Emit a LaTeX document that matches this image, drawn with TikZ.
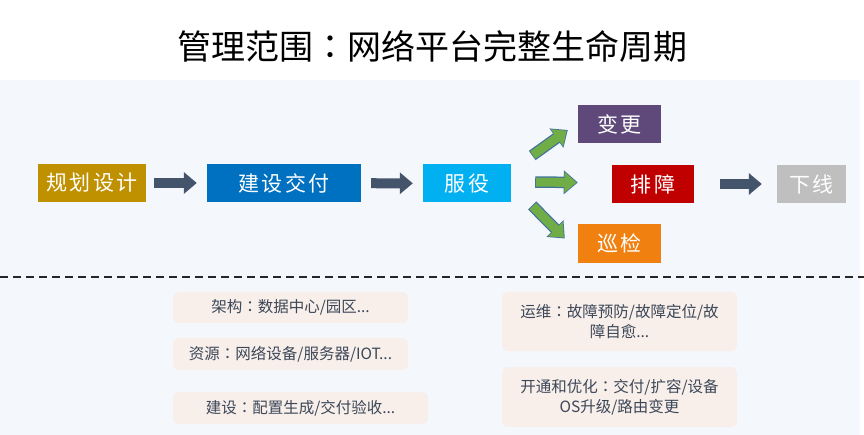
\documentclass[tikz,border=0pt]{standalone}
\usepackage{fontspec}
\setmainfont{Noto Sans CJK SC}
\newfontfamily\tcfont{Noto Sans CJK TC}
\newcommand{\midcolon}{{\tcfont ：}}
\usetikzlibrary{arrows.meta,calc}
\definecolor{bandblue}{RGB}{244,248,252}
\definecolor{plangold}{RGB}{191,144,0}
\definecolor{buildblue}{RGB}{0,112,192}
\definecolor{servecyan}{RGB}{0,176,240}
\definecolor{changepurple}{RGB}{95,73,122}
\definecolor{fixred}{RGB}{192,0,0}
\definecolor{patrolorange}{RGB}{240,128,16}
\definecolor{retiregray}{RGB}{191,191,191}
\definecolor{slatearrow}{RGB}{68,84,106}
\definecolor{arrowgreen}{RGB}{112,173,71}
\definecolor{greenedge}{RGB}{65,113,156}
\definecolor{notepink}{RGB}{248,238,234}
\definecolor{notetext}{RGB}{60,72,88}

\begin{document}
\begin{tikzpicture}[x=1pt, y=-1pt,
  headline/.style={font=\fontsize{34}{40}\selectfont, text=black},
  stage/.style={text=white, align=center, inner sep=0pt,
                minimum height=38pt,
                font=\fontsize{21}{24}\selectfont\addfontfeature{LetterSpace=12}},
  note/.style={fill=notepink, rounded corners=6pt, text=notetext,
               align=center, inner sep=0pt,
               font=\fontsize{15.5}{20}\selectfont},
  darkarrow/.style={draw=slatearrow, line width=10pt,
                    -{Triangle[length=13pt,width=21pt]}},
  greenarrow/.style={draw=arrowgreen, line width=9pt,
                     -{Triangle[length=12pt,width=20pt]},
                     shorten >=1.3pt, shorten <=0.8pt,
                     preaction={draw=greenedge, line width=11.5pt,
                                -{Triangle[length=14pt,width=23pt]},
                                shorten >=0pt, shorten <=0pt}}
]
\useasboundingbox (0,0) rectangle (864,435);
\fill[bandblue] (0,80) rectangle (860,435);

\node[headline] (title) at (432,46) {管理范围\midcolon 网络平台完整生命周期};

% life cycle stages
\node[stage, fill=plangold, minimum width=108pt] (plan) at (92,183) {规划设计};
\node[stage, fill=buildblue, minimum width=154pt] (build) at (284,183) {建设交付};
\node[stage, fill=servecyan, minimum width=88pt] (serve) at (467,183.5) {服役};
\node[stage, fill=changepurple, minimum width=83pt] (change) at (619.5,124) {变更};
\node[stage, fill=fixred, minimum width=82pt] (fix) at (653,184) {排障};
\node[stage, fill=patrolorange, minimum width=83pt, minimum height=39pt] (patrol) at (619.5,243.5) {巡检};
\node[stage, fill=retiregray, minimum width=69pt] (retire) at (811.5,184) {下线};

\foreach \a/\b/\s/\e in {plan/build/8pt/10pt, build/serve/10pt/10pt, fix/retire/26pt/15pt}
  \draw[darkarrow, shorten <=\s, shorten >=\e] (\a) -- (\b);

\draw[greenarrow] ($(serve.east)+(21,-28)$) -- ($(change.west)+(-10,6)$);
\draw[greenarrow] ($(serve.east)+(24,-1.5)$) -- ($(fix.west)+(-34,-1.5)$);
\draw[greenarrow] ($(serve.east)+(21,22)$) -- ($(patrol.west)+(-13,-5)$);

% separator
\coordinate (sepL) at (0,277);
\coordinate (sepR) at (864,277);
\draw[line width=1.4pt, black!85, dash pattern=on 8pt off 5pt] (sepL) -- (sepR);

% scope notes
\node[note, minimum width=235pt, minimum height=31pt] (arch) at (290.5,307.5) {架构\midcolon 数据中心/园区...};
\node[note, minimum width=235pt, minimum height=32pt] (res) at (290.5,354) {资源\midcolon 网络设备/服务器/IOT...};
\node[note, minimum width=255pt, minimum height=32pt] (cons) at (300.5,408) {建设\midcolon 配置生成/交付验收...};
\node[note, minimum width=235pt, minimum height=59pt] (ops) at (619.5,321.5) {运维\midcolon 故障预防/故障定位/故\\障自愈...};
\node[note, minimum width=235pt, minimum height=60pt] (prov) at (619.5,397) {开通和优化\midcolon 交付/扩容/设备\\OS升级/路由变更};
\end{tikzpicture}
\end{document}
